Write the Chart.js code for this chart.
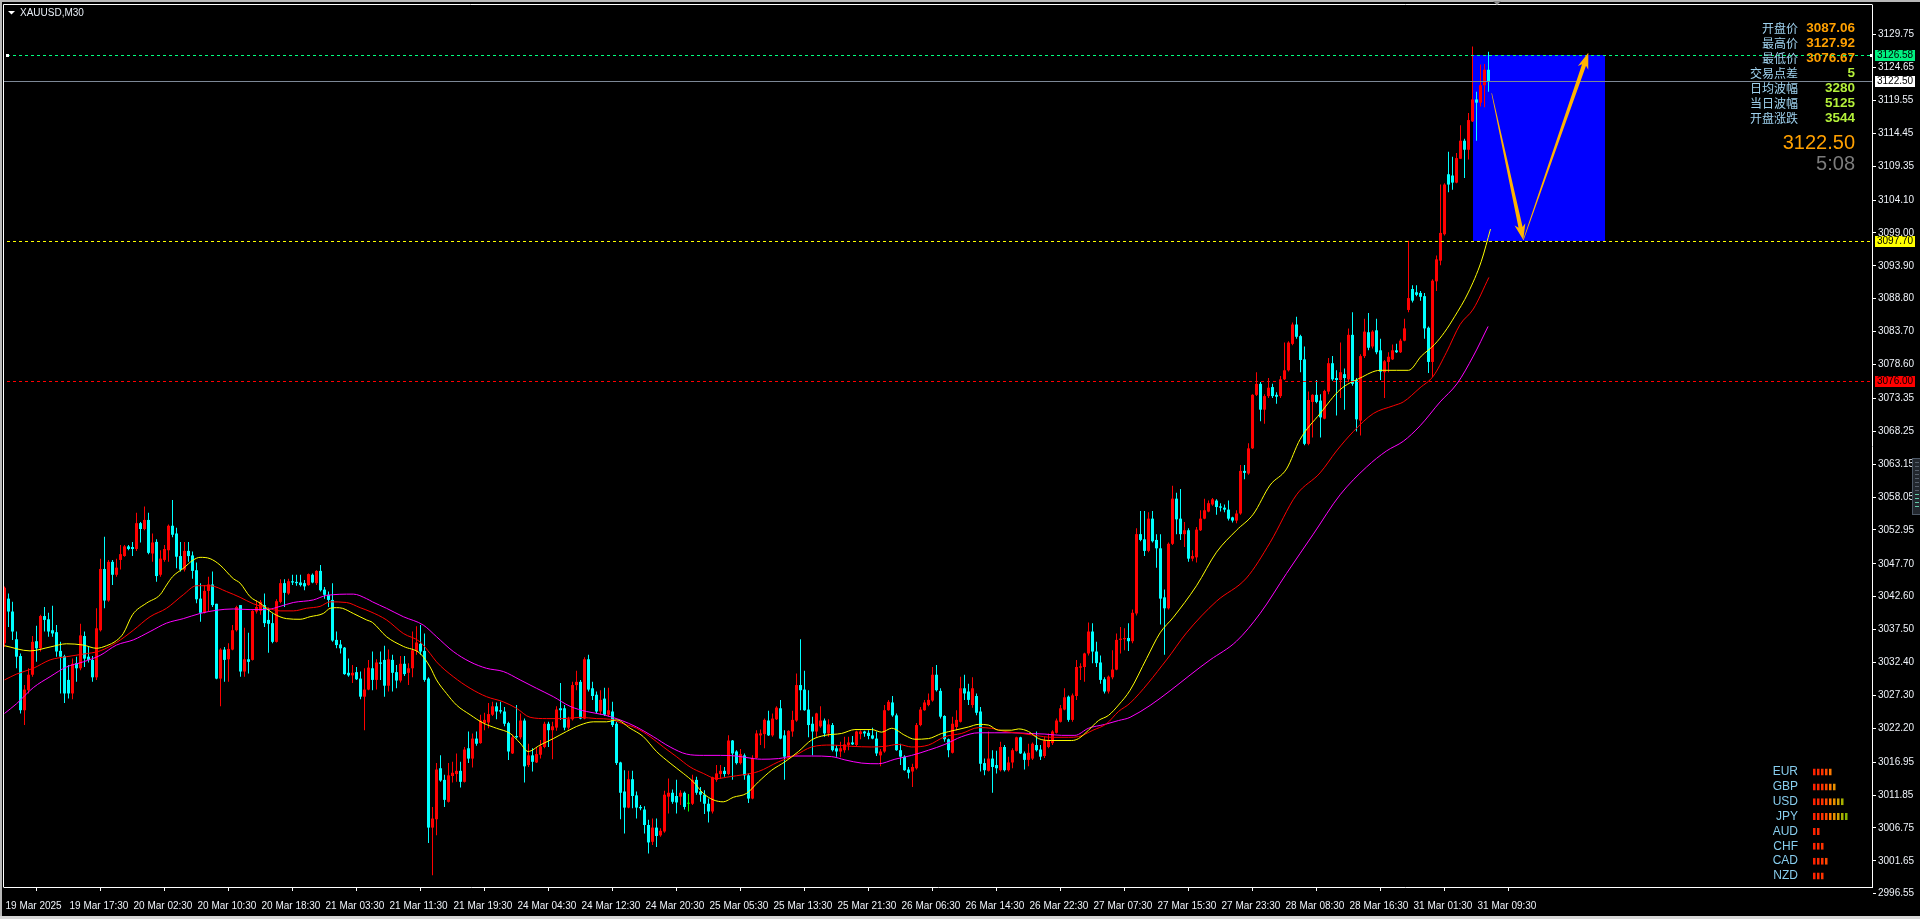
<!DOCTYPE html>
<html>
<head>
<meta charset="utf-8">
<title>XAUUSD,M30</title>
<script src="https://cdn.jsdelivr.net/npm/chart.js@4.4.1/dist/chart.umd.min.js"></script>
<style>
  html, body { margin: 0; padding: 0; background: #000; overflow: hidden; }
  #wrap { position: relative; width: 1920px; height: 919px; }
  #main { position: absolute; left: 0; top: 0; }
  #strengthBox { position: absolute; left: 1740px; top: 764px; width: 130px; height: 120px; }
</style>
</head>
<body>
<div id="wrap">
  <canvas id="main" width="1920" height="919"></canvas>
  <div id="strengthBox"><canvas id="strength"></canvas></div>
</div>
<script>
// ---- XAUUSD M30 bars (index 0 = 19 Mar 2025 09:30) ----
const opens = [
  3035.4,3042.3,3040.3,3036.0,3033.4,3025.0,3028.1,3030.5,3035.7,3034.6,
  3039.6,3039.1,3037.4,3037.1,3034.2,3033.4,3029.7,3027.6,3032.3,3031.5,
  3036.5,3033.3,3032.8,3030.1,3037.4,3046.9,3042.0,3048.0,3046.0,3048.3,
  3048.9,3050.4,3050.3,3050.0,3054.0,3053.1,3054.5,3049.3,3051.1,3046.0,
  3048.3,3049.8,3053.6,3052.4,3048.9,3046.8,3049.7,3049.0,3046.7,3042.3,
  3040.1,3043.5,3044.5,3041.5,3029.9,3034.4,3032.9,3034.4,3037.4,3041.3,
  3031.0,3032.9,3032.8,3040.3,3040.4,3041.3,3039.0,3038.5,3035.6,3041.8,
  3044.7,3043.1,3045.0,3044.9,3044.8,3044.7,3044.4,3046.0,3044.7,3046.6,
  3043.7,3042.9,3042.1,3035.9,3035.2,3034.7,3030.8,3030.4,3030.9,3029.9,
  3027.1,3028.2,3031.5,3029.7,3032.4,3032.8,3028.8,3032.8,3030.9,3029.6,
  3032.2,3030.8,3031.5,3034.2,3035.3,3034.2,3029.9,3006.8,3008.1,3016.0,
  3014.2,3010.8,3014.8,3015.1,3015.6,3013.9,3019.1,3017.5,3020.6,3019.9,
  3023.0,3023.1,3024.3,3025.6,3025.0,3024.8,3023.0,3018.3,3021.0,3020.8,
  3023.4,3016.5,3018.0,3016.9,3018.1,3019.3,3022.9,3021.9,3022.3,3025.3,
  3025.3,3022.3,3023.6,3028.9,3029.4,3023.7,3032.9,3028.4,3027.4,3024.8,
  3026.8,3024.3,3024.8,3022.9,3016.9,3012.4,3009.9,3014.3,3011.8,3010.0,
  3009.6,3007.2,3004.6,3006.8,3005.6,3006.2,3011.6,3012.2,3011.7,3011.6,
  3012.2,3010.5,3010.5,3014.2,3012.4,3011.9,3010.5,3009.3,3014.2,3015.1,
  3015.6,3015.1,3020.3,3018.6,3016.8,3018.0,3014.9,3011.3,3017.6,3021.1,
  3021.3,3023.4,3021.1,3023.6,3025.3,3021.1,3017.7,3021.7,3023.4,3028.9,
  3028.2,3025.1,3022.9,3021.7,3022.5,3023.4,3021.4,3022.7,3019.1,3018.6,
  3018.8,3019.6,3020.0,3019.6,3021.3,3021.7,3021.5,3021.1,3020.6,3018.0,
  3018.6,3025.0,3026.2,3024.2,3018.8,3017.8,3015.8,3015.5,3016.0,3022.7,
  3025.0,3025.8,3026.5,3030.5,3028.0,3024.1,3020.5,3018.4,3022.4,3023.2,
  3028.4,3027.9,3025.8,3027.2,3024.8,3016.8,3015.6,3017.5,3016.5,3015.7,
  3019.3,3015.7,3016.9,3018.7,3020.8,3018.3,3017.3,3017.5,3019.6,3018.9,
  3017.9,3019.3,3019.9,3021.5,3023.2,3025.1,3027.1,3023.5,3027.2,3031.6,
  3031.7,3033.8,3037.2,3034.1,3032.4,3029.8,3027.9,3030.1,3031.3,3035.9,
  3036.0,3036.2,3035.7,3040.0,3052.3,3051.5,3049.7,3054.7,3051.4,3050.1,
  3042.5,3040.8,3050.8,3057.8,3054.7,3052.3,3052.9,3048.5,3048.7,3052.9,
  3054.7,3055.8,3056.9,3057.5,3056.6,3056.4,3056.1,3054.9,3054.4,3055.5,
  3062.1,3061.7,3065.6,3073.9,3075.6,3071.6,3073.7,3075.1,3073.9,3073.7,
  3076.3,3077.7,3081.8,3084.8,3083.0,3079.4,3066.3,3072.8,3073.9,3073.0,
  3070.2,3074.4,3078.8,3076.5,3076.2,3077.1,3076.3,3083.2,3076.2,3069.9,
  3079.9,3083.6,3081.4,3083.9,3080.8,3077.4,3079.0,3079.4,3080.8,3080.5,
  3082.3,3087.06,3090.3,3089.8,3089.7,3089.2,3084.3,3079.0,3091.5,3094.7,
  3098.8,3108.1,3107.9,3106.8,3110.5,3113.3,3111.9,3116.3,3119.7,3119.2,
  3121.9,3124.3
];
const highs = [
  3044.2,3043.1,3041.8,3037.2,3033.8,3028.9,3031.5,3036.5,3038.1,3039.8,
  3041.0,3040.1,3041.2,3038.2,3035.6,3033.6,3032.0,3033.0,3033.3,3038.4,
  3037.2,3034.8,3033.4,3040.8,3048.5,3051.9,3048.3,3048.3,3048.5,3050.6,
  3050.6,3050.6,3051.1,3055.6,3054.2,3056.6,3055.6,3052.4,3051.5,3049.8,
  3050.6,3053.8,3057.6,3053.3,3051.1,3051.1,3051.1,3049.6,3047.9,3044.7,
  3044.4,3045.7,3046.5,3041.5,3034.6,3034.8,3035.4,3038.2,3041.2,3041.3,
  3037.8,3037.0,3040.5,3042.0,3042.1,3043.1,3040.9,3040.0,3042.2,3045.3,
  3045.3,3045.4,3046.0,3046.0,3046.0,3045.2,3046.2,3046.2,3046.7,3047.5,
  3044.1,3043.4,3044.7,3037.2,3035.9,3034.8,3033.0,3032.0,3031.7,3031.0,
  3031.5,3032.8,3034.1,3032.9,3034.1,3035.0,3034.4,3033.6,3032.0,3033.4,
  3033.4,3032.3,3037.2,3038.0,3038.2,3036.9,3030.1,3010.0,3016.8,3018.0,
  3015.0,3016.8,3017.0,3018.3,3017.0,3019.3,3021.7,3021.4,3021.7,3024.3,
  3024.6,3026.1,3026.3,3026.2,3026.3,3025.5,3023.2,3021.2,3025.8,3024.5,
  3023.7,3019.8,3019.1,3019.3,3020.4,3023.2,3023.2,3023.2,3025.6,3029.2,
  3025.8,3024.0,3029.4,3031.1,3029.7,3033.2,3033.6,3029.4,3027.9,3028.1,
  3028.5,3028.5,3026.3,3023.2,3017.0,3015.7,3015.6,3015.6,3012.4,3010.3,
  3010.1,3008.0,3008.2,3008.2,3006.7,3012.5,3014.4,3012.7,3014.2,3012.6,
  3012.4,3012.0,3015.0,3014.7,3013.1,3012.6,3011.3,3014.7,3016.5,3016.5,
  3016.2,3021.1,3020.4,3018.8,3019.0,3018.3,3015.2,3018.0,3021.9,3022.0,
  3023.7,3024.9,3024.5,3025.6,3026.6,3021.9,3021.9,3024.9,3030.7,3036.0,
  3031.1,3028.1,3024.0,3024.6,3025.6,3023.7,3023.6,3023.0,3019.6,3020.1,
  3020.9,3020.9,3021.0,3021.8,3021.9,3021.8,3021.9,3022.3,3021.7,3019.0,
  3025.8,3026.6,3027.2,3024.5,3019.8,3018.0,3016.2,3016.7,3023.0,3025.5,
  3026.6,3027.6,3031.7,3032.0,3028.4,3024.2,3020.6,3024.0,3025.0,3030.2,
  3030.5,3029.1,3030.1,3027.6,3025.5,3017.5,3021.7,3018.8,3018.7,3020.1,
  3019.6,3017.8,3019.1,3020.9,3020.9,3018.6,3019.8,3020.0,3021.7,3019.6,
  3020.9,3021.4,3021.9,3023.7,3025.8,3028.4,3027.3,3027.6,3032.8,3032.3,
  3033.9,3038.6,3038.5,3035.6,3033.5,3030.1,3030.4,3034.3,3036.9,3037.9,
  3037.7,3038.5,3040.6,3053.2,3055.9,3055.9,3055.7,3055.9,3052.3,3052.3,
  3043.7,3051.0,3059.8,3058.7,3059.3,3054.2,3053.2,3049.8,3053.4,3056.0,
  3057.8,3057.5,3057.9,3057.7,3057.1,3056.9,3057.5,3055.0,3056.0,3063.0,
  3063.0,3066.4,3074.0,3077.4,3075.9,3074.0,3076.5,3075.6,3074.3,3076.8,
  3082.0,3082.2,3085.1,3086.0,3083.2,3081.4,3074.4,3074.0,3076.2,3074.0,
  3074.7,3079.6,3079.9,3077.7,3082.0,3078.0,3084.2,3086.7,3076.5,3080.2,
  3085.7,3086.6,3083.9,3085.7,3082.6,3079.3,3080.5,3081.7,3081.8,3082.6,
  3085.7,3097.8,3090.9,3090.9,3090.0,3089.7,3084.5,3091.8,3095.5,3106.5,
  3106.7,3111.6,3110.8,3111.4,3115.7,3113.6,3117.6,3127.92,3120.9,3125.1,
  3125.2,3127.1
];
const lows = [
  3034.8,3037.9,3035.9,3031.5,3024.5,3022.7,3027.6,3030.2,3032.5,3034.1,
  3037.2,3036.4,3036.4,3033.3,3027.6,3026.1,3026.8,3026.7,3029.4,3031.2,
  3031.7,3032.4,3029.4,3029.7,3037.2,3040.8,3041.8,3044.4,3045.7,3046.8,
  3048.8,3049.8,3048.9,3049.7,3051.0,3052.9,3049.2,3048.0,3044.9,3045.7,
  3048.0,3048.0,3051.8,3047.0,3046.5,3046.5,3048.0,3045.4,3041.6,3038.7,
  3040.0,3040.3,3041.0,3029.8,3025.6,3029.4,3029.4,3034.3,3037.2,3030.2,
  3030.2,3030.7,3032.7,3040.0,3039.8,3037.9,3033.9,3035.4,3035.5,3041.6,
  3041.0,3042.9,3044.4,3044.3,3044.2,3043.6,3044.3,3044.7,3044.4,3043.4,
  3042.3,3041.0,3035.6,3034.6,3033.8,3030.5,3030.2,3029.2,3029.7,3026.7,
  3021.9,3028.1,3028.1,3028.2,3029.7,3027.1,3027.9,3027.9,3028.4,3029.3,
  3030.3,3028.9,3030.1,3033.6,3033.6,3029.4,3004.4,2999.4,3005.6,3013.9,
  3010.0,3010.7,3013.8,3013.9,3013.0,3013.8,3016.8,3016.1,3019.5,3019.8,
  3021.9,3022.2,3024.1,3023.6,3024.5,3022.5,3017.3,3018.2,3020.6,3020.5,
  3013.8,3016.2,3015.5,3016.8,3017.5,3019.1,3019.3,3017.4,3021.8,3023.5,
  3021.9,3022.0,3023.4,3028.1,3023.6,3023.6,3027.9,3026.6,3024.5,3024.3,
  3024.1,3024.0,3022.4,3016.5,3008.1,3005.9,3009.8,3009.8,3008.2,3009.5,
  3005.9,3002.8,3004.1,3003.8,3005.4,3006.0,3009.0,3010.5,3009.0,3010.3,
  3009.6,3009.3,3010.3,3011.9,3010.8,3008.9,3007.6,3009.0,3013.9,3014.4,
  3014.7,3014.9,3014.2,3016.6,3016.6,3014.2,3010.6,3011.2,3017.5,3019.6,
  3019.1,3021.0,3020.9,3023.5,3020.5,3014.2,3017.5,3020.9,3023.2,3025.0,
  3024.9,3020.8,3018.0,3020.9,3022.3,3020.9,3020.9,3018.6,3017.8,3017.7,
  3018.4,3018.8,3019.6,3019.4,3020.5,3020.9,3020.5,3020.5,3017.9,3016.3,
  3018.4,3024.9,3024.0,3018.7,3016.5,3015.6,3014.4,3013.1,3015.8,3022.5,
  3024.9,3025.6,3026.3,3027.9,3023.7,3020.1,3017.7,3018.3,3021.9,3023.1,
  3026.6,3025.8,3025.4,3024.2,3015.5,3014.9,3015.5,3012.2,3015.2,3015.5,
  3015.5,3015.5,3016.0,3018.6,3018.2,3015.8,3016.3,3017.3,3018.6,3017.3,
  3017.6,3019.1,3019.6,3021.4,3023.1,3025.0,3023.2,3023.2,3026.6,3029.7,
  3029.4,3033.5,3032.3,3031.7,3029.1,3027.6,3027.6,3029.8,3031.2,3033.8,
  3034.3,3034.2,3035.4,3039.7,3051.2,3048.9,3049.5,3051.0,3047.1,3038.3,
  3033.6,3040.6,3050.6,3052.3,3051.4,3050.3,3048.0,3048.1,3047.9,3052.8,
  3054.6,3055.7,3056.7,3055.3,3055.8,3055.7,3054.4,3054.1,3054.0,3055.3,
  3060.8,3061.5,3065.5,3073.7,3069.8,3069.4,3073.4,3073.4,3072.5,3073.4,
  3076.2,3077.5,3081.6,3082.6,3077.4,3066.1,3066.1,3067.3,3072.6,3067.3,
  3070.1,3074.0,3076.1,3070.7,3073.4,3071.6,3075.9,3075.3,3068.2,3067.6,
  3079.6,3080.8,3081.1,3080.2,3076.2,3073.4,3077.4,3079.3,3080.4,3080.4,
  3082.2,3086.7,3088.2,3089.2,3088.5,3082.6,3077.3,3076.67,3090.0,3094.0,
  3098.6,3105.3,3105.7,3106.7,3110.5,3107.5,3110.4,3116.2,3113.3,3118.6,
  3118.5,3120.9
];
const closes = [
  3044.0,3040.3,3037.2,3033.3,3025.0,3028.2,3030.5,3035.6,3034.6,3039.6,
  3039.0,3037.2,3036.9,3034.1,3033.3,3027.6,3027.6,3032.2,3031.5,3036.6,
  3033.0,3032.8,3030.1,3037.7,3046.9,3042.0,3048.0,3046.0,3047.1,3049.2,
  3050.4,3050.0,3050.0,3054.0,3053.1,3054.5,3049.4,3051.0,3045.8,3048.5,
  3050.0,3053.6,3052.2,3048.8,3046.8,3049.7,3048.9,3046.6,3042.2,3040.1,
  3043.5,3044.5,3041.3,3029.9,3034.4,3032.8,3034.5,3037.4,3041.0,3031.0,
  3032.9,3032.5,3040.4,3041.0,3041.8,3038.5,3038.4,3035.6,3041.9,3044.7,
  3043.2,3045.0,3044.8,3044.7,3044.4,3044.2,3046.1,3044.8,3046.6,3043.6,
  3042.9,3042.1,3035.8,3035.1,3034.6,3030.6,3030.4,3030.8,3029.8,3027.1,
  3028.2,3031.6,3029.7,3032.4,3032.2,3028.8,3032.9,3030.8,3029.6,3032.2,
  3030.6,3031.5,3034.3,3035.5,3034.1,3029.7,3006.8,3008.2,3015.8,3014.1,
  3011.1,3014.9,3015.3,3015.6,3013.9,3018.9,3017.5,3020.6,3019.8,3023.4,
  3023.5,3024.4,3025.6,3024.8,3024.8,3022.9,3018.6,3020.8,3020.8,3023.4,
  3016.3,3018.0,3017.0,3018.2,3019.4,3022.9,3021.9,3022.5,3025.1,3025.0,
  3022.3,3023.6,3028.9,3029.4,3023.7,3032.9,3028.2,3027.2,3024.8,3026.6,
  3024.3,3025.0,3022.7,3016.8,3012.2,3009.9,3014.3,3011.7,3009.9,3009.8,
  3007.2,3004.5,3006.8,3005.5,3006.3,3011.9,3012.2,3010.8,3010.7,3012.2,
  3010.0,3010.5,3014.2,3012.2,3011.9,3010.5,3009.3,3014.6,3015.2,3015.6,
  3015.1,3020.3,3018.3,3016.8,3018.2,3014.9,3011.3,3017.6,3021.4,3021.4,
  3023.5,3021.1,3023.7,3025.4,3020.6,3017.8,3021.8,3023.5,3028.9,3028.1,
  3025.0,3022.7,3021.7,3024.5,3023.4,3021.4,3022.8,3018.8,3018.6,3019.1,
  3019.7,3020.0,3019.7,3021.7,3021.7,3021.4,3021.0,3020.6,3018.3,3018.6,
  3025.0,3026.3,3024.2,3018.8,3017.8,3015.7,3015.3,3016.2,3022.7,3025.1,
  3026.2,3026.6,3030.5,3028.1,3024.0,3020.5,3018.8,3022.9,3023.5,3028.4,
  3027.6,3026.6,3028.4,3024.6,3016.7,3015.7,3017.5,3016.2,3016.0,3019.3,
  3015.7,3016.9,3018.8,3020.8,3018.3,3017.3,3018.4,3019.8,3018.8,3017.8,
  3020.3,3020.4,3021.7,3023.4,3025.3,3027.0,3023.5,3027.3,3031.7,3031.8,
  3033.8,3037.2,3034.1,3032.3,3029.7,3027.9,3030.2,3031.3,3035.9,3036.1,
  3036.2,3035.7,3040.1,3052.3,3051.4,3049.7,3054.7,3051.2,3050.1,3042.3,
  3040.8,3050.8,3057.8,3054.6,3052.3,3052.9,3048.5,3048.9,3053.0,3054.7,
  3056.0,3057.1,3057.7,3056.5,3056.4,3056.1,3054.7,3054.4,3055.5,3062.1,
  3061.8,3065.6,3073.9,3075.6,3071.6,3073.7,3075.0,3073.7,3073.6,3076.3,
  3077.7,3082.0,3084.8,3082.9,3079.3,3066.3,3073.1,3073.9,3072.8,3070.4,
  3074.5,3078.8,3076.3,3076.2,3077.4,3076.5,3083.2,3075.6,3070.1,3079.9,
  3083.7,3081.2,3083.7,3080.5,3077.5,3079.1,3079.8,3080.8,3080.5,3082.3,
  3084.2,3088.9,3088.5,3089.4,3089.1,3084.2,3079.0,3091.6,3094.9,3099.0,
  3106.5,3106.5,3106.8,3110.6,3113.3,3111.9,3116.5,3119.7,3119.2,3121.9,
  3124.3,3122.50
];

// Moving averages, sampled as [bar index, price]
const maFast = [
  [0,3035.0],[6.4,3034.2],[11.4,3034.8],[15.5,3035.3],[19.7,3035.1],[23,3034.6],[25.5,3035.0],
  [28,3035.8],[29.7,3036.9],[32,3039.8],[35.5,3041.6],[38.9,3042.9],[40.5,3044.4],[42,3045.7],
  [44.7,3047.0],[47.2,3048.3],[48.9,3048.7],[51.4,3048.5],[53.9,3047.5],[57.2,3045.4],[58.9,3044.7],
  [61.4,3042.6],[63.9,3041.6],[67.2,3040.0],[70.5,3039.2],[73.9,3039.1],[76.4,3039.5],[79.7,3040.0],
  [81.4,3040.8],[83,3040.9],[84.5,3040.8],[87.2,3040.0],[90.5,3039.0],[92,3038.6],[95.5,3036.4],
  [99.7,3034.9],[103.9,3033.8],[106.4,3031.7],[108,3029.7],[110.5,3027.6],[113,3025.8],[116.4,3024.3],
  [119.7,3023.0],[123,3022.2],[126.4,3021.4],[128.9,3019.9],[130.9,3018.6],[133.9,3019.6],[137.2,3020.6],
  [140.5,3021.7],[143.9,3022.7],[147.2,3023.2],[150.5,3023.2],[153,3023.5],[156.4,3022.2],[159.7,3020.9],
  [163,3018.6],[166.4,3016.8],[169.7,3015.2],[172.2,3013.9],[174.7,3012.1],[177.2,3011.1],[179.7,3010.8],
  [182.2,3011.5],[185.5,3012.1],[188.5,3013.9],[191.8,3015.7],[195.1,3017.0],[198.5,3018.6],[201.8,3020.4],
  [205.1,3021.1],[209.3,3021.4],[212.6,3022.0],[216.8,3022.0],[219.3,3021.6],[221.8,3022.2],[225.1,3021.1],
  [227.6,3020.5],[231,3020.6],[234.3,3021.4],[237.6,3021.9],[241,3022.4],[243.5,3022.8],[246,3022.7],
  [248.5,3021.9],[251.8,3021.9],[253.5,3022.1],[256,3021.7],[258.5,3020.6],[261.8,3020.3],[266.8,3020.3],
  [268.5,3020.6],[271,3021.9],[273.5,3023.4],[276,3024.2],[278.5,3025.8],[281.4,3028.1],[285.5,3033.0],
  [288.9,3037.0],[292.2,3039.4],[298,3044.3],[303,3049.5],[308,3052.9],[312.2,3055.4],[316.4,3059.9],
  [320.5,3062.4],[323.9,3067.0],[328.9,3071.0],[333.9,3074.7],[338.9,3076.5],[343.9,3077.7],[348,3077.7],
  [351,3077.7],[354.2,3079.9],[357.5,3081.7],[360,3083.6],[362.5,3086.0],[365.9,3089.7],[369.2,3094.6],
  [371.5,3099.6]
];
const maMid = [
  [0,3029.7],[3,3030.6],[7.2,3031.5],[11.4,3032.8],[15.5,3033.3],[19.7,3033.7],[23.9,3034.2],[28,3035.5],
  [32.2,3037.4],[36.4,3039.5],[40.5,3040.8],[44.7,3042.9],[48,3044.3],[51.4,3044.3],[55.5,3043.4],
  [58.9,3042.5],[62.2,3041.5],[65.5,3040.9],[68.9,3040.4],[72.2,3040.4],[75.5,3040.8],[78.9,3041.1],
  [81.4,3041.8],[85.5,3041.7],[88.9,3040.9],[91.4,3040.3],[95.5,3039.0],[99.7,3036.9],[103.9,3035.6],
  [106.4,3033.8],[108,3032.5],[112.2,3030.2],[116.4,3028.4],[120.5,3027.1],[124.7,3026.3],[128,3025.3],
  [131.4,3023.9],[135.5,3023.7],[139.7,3023.7],[143.9,3023.9],[148,3023.7],[151.4,3023.6],[154.7,3022.9],
  [158,3022.2],[161.4,3020.9],[164.7,3019.3],[168,3017.8],[171.4,3016.2],[174.7,3015.2],[178,3014.4],
  [181.4,3014.7],[184.7,3015.0],[188.5,3015.5],[193.5,3017.0],[197.6,3018.0],[201.8,3019.3],[206.8,3019.6],
  [211.8,3019.4],[216.8,3019.3],[220.1,3019.4],[223.5,3019.7],[226.8,3019.3],[231,3019.6],[235.1,3020.9],
  [239.3,3021.4],[243.5,3022.3],[246.8,3022.2],[250.1,3021.7],[254.3,3021.4],[257.6,3021.1],[261.8,3020.8],
  [266,3020.8],[268.5,3020.9],[272.1,3021.9],[275.5,3022.9],[278.5,3024.8],[281.4,3026.1],[290.5,3032.8],
  [295.5,3037.0],[303,3041.9],[310.5,3045.5],[316.4,3051.0],[323,3058.4],[328.9,3061.8],[333,3065.2],
  [337.2,3068.2],[342.2,3071.0],[347.2,3072.2],[349.7,3072.8],[353.9,3075.0],[357.2,3076.8],[360.5,3080.5],
  [363.9,3084.8],[367.2,3087.2],[371.1,3092.1]
];
const maSlow = [
  [0,3024.5],[3,3026.0],[7.2,3028.5],[11.4,3030.2],[15.5,3031.7],[19.7,3032.5],[23.9,3033.5],[28,3035.1],
  [32.2,3035.9],[36.4,3037.2],[40.5,3038.5],[44.7,3039.2],[48.9,3040.0],[53,3040.5],[57.2,3040.7],
  [61.4,3040.6],[65.5,3040.6],[68.9,3041.1],[72.2,3041.7],[77.2,3042.1],[80.5,3042.8],[87.2,3043.0],
  [90.5,3042.3],[92,3041.8],[95.5,3040.8],[99.7,3039.5],[104.7,3038.2],[108,3036.4],[112.2,3034.1],
  [116.4,3032.5],[120.5,3031.5],[124.7,3031.0],[128.9,3029.7],[133,3028.4],[137.2,3027.1],[141.4,3025.6],
  [145.5,3024.8],[149.7,3024.3],[153.9,3023.5],[158,3022.4],[162.2,3020.9],[166.4,3019.3],[170.5,3018.2],
  [174.7,3018.0],[179,3018.0],[183,3017.9],[187.2,3017.5],[189.3,3017.4],[193.5,3017.5],[197.6,3017.9],
  [201.8,3017.9],[206.8,3017.8],[210.1,3017.3],[214.3,3016.8],[218.5,3016.7],[222.6,3017.4],[226.8,3018.0],
  [231,3018.8],[235.1,3019.7],[239.3,3020.9],[243.5,3021.5],[247.6,3021.5],[251.8,3021.5],[256,3021.4],
  [260.1,3021.3],[264.3,3021.1],[267.6,3021.1],[271,3022.2],[275.1,3022.8],[278.5,3023.4],[281.4,3023.9],
  [301.4,3032.8],[308,3035.7],[313.9,3040.0],[320.5,3046.2],[327.2,3052.3],[333.9,3058.4],[340.5,3062.7],
  [345.5,3065.2],[349.7,3066.7],[353.9,3069.1],[358.9,3072.8],[363.1,3075.6],[367.2,3079.9],[370.9,3084.5]
];

// Time axis: one label every 16 bars
const labelStep = 16;
const timeLabels = [
  '19 Mar 2025','19 Mar 17:30','20 Mar 02:30','20 Mar 10:30','20 Mar 18:30','21 Mar 03:30',
  '21 Mar 11:30','21 Mar 19:30','24 Mar 04:30','24 Mar 12:30','24 Mar 20:30','25 Mar 05:30',
  '25 Mar 13:30','25 Mar 21:30','26 Mar 06:30','26 Mar 14:30','26 Mar 22:30','27 Mar 07:30',
  '27 Mar 15:30','27 Mar 23:30','28 Mar 08:30','28 Mar 16:30','31 Mar 01:30','31 Mar 09:30'
];
// Price axis ticks
const priceTicks = [
  3129.75,3124.65,3119.55,3114.45,3109.35,3104.10,3099.00,3093.90,3088.80,3083.70,3078.60,
  3073.35,3068.25,3063.15,3058.05,3052.95,3047.70,3042.60,3037.50,3032.40,3027.30,3022.20,
  3016.95,3011.85,3006.75,3001.65,2996.55
];

// Drawn objects
const bidPrice = 3122.50;
const dashedLevels = [3126.58, 3097.70, 3076.00];
const zoneBars = [367, 400];
const zonePrices = [3097.70, 3126.58];
const arrowPath = [[371.8, 3120.65], [379.7, 3097.90], [395.95, 3126.94]];

// Info panel
const infoLabels = ['开盘价', '最高价', '最低价', '交易点差', '日均波幅', '当日波幅', '开盘涨跌'];
const infoValues = ['3087.06', '3127.92', '3076.67', '5', '3280', '5125', '3544'];
const lastPriceText = '3122.50';
const countdownText = '5:08';

// Currency strength
const currencies = ['EUR', 'GBP', 'USD', 'JPY', 'AUD', 'CHF', 'CAD', 'NZD'];
const strength = [5, 6, 8, 9, 2, 3, 4, 3];

// ---- styles ----
const FONT = "'Liberation Sans', Arial, sans-serif";
const AXIS_SIZE = 10;
const BULL = '#ff0000', BEAR = '#00ffff', DOJI = '#00ff00';
const LEVEL_COLORS = ['#00ff7f', '#ffff00', '#ff0000'];
const SEG_COLORS = ['#ff2200', '#ff2a00', '#ff3300', '#ff4a00', '#ff7a00', '#e89000', '#d0a000', '#a8b000', '#88b400'];

const candleColor = opens.map((o, i) => closes[i] > o ? BULL : (closes[i] < o ? BEAR : DOJI));
const wickData = highs.map((h, i) => ({ x: i, y: [lows[i], h] }));
const bodyData = opens.map((o, i) => ({ x: i, y: [Math.min(o, closes[i]), Math.max(o, closes[i])] }));
const pts = arr => arr.map(([x, y]) => ({ x, y }));

function drawArrow(ctx, x0, y0, x1, y1) {
  const dx = x1 - x0, dy = y1 - y0, len = Math.hypot(dx, dy);
  const ux = dx / len, uy = dy / len, nx = -uy, ny = ux;
  const headLen = 13, headW = 5.5, w0 = 0.6, w1 = 4.2;
  const bx = x1 - ux * headLen, by = y1 - uy * headLen;
  const rx = x1 - ux * (headLen + 3), ry = y1 - uy * (headLen + 3);
  ctx.beginPath();
  ctx.moveTo(x0 + nx * w0 / 2, y0 + ny * w0 / 2);
  ctx.lineTo(bx + nx * w1 / 2, by + ny * w1 / 2);
  ctx.lineTo(rx + nx * headW, ry + ny * headW);
  ctx.lineTo(x1, y1);
  ctx.lineTo(rx - nx * headW, ry - ny * headW);
  ctx.lineTo(bx - nx * w1 / 2, by - ny * w1 / 2);
  ctx.lineTo(x0 - nx * w0 / 2, y0 - ny * w0 / 2);
  ctx.closePath();
  ctx.fill();
}

function priceTag(ctx, yPix, text, bg) {
  const yc = Math.round(yPix);
  ctx.fillStyle = bg;
  ctx.fillRect(1875, yc - 5, 40, 11);
  ctx.fillStyle = '#000';
  ctx.font = AXIS_SIZE + 'px ' + FONT;
  ctx.textAlign = 'left';
  ctx.textBaseline = 'middle';
  ctx.fillText(text, 1877, yc + 0.5);
}

const terminalDecor = {
  id: 'terminalDecor',
  beforeDraw(chart) {
    const ctx = chart.ctx;
    ctx.save();
    ctx.fillStyle = '#000';
    ctx.fillRect(0, 0, chart.width, chart.height);
    ctx.restore();
  },
  beforeDatasetsDraw(chart) {
    const { ctx, chartArea: a, scales: { x, y } } = chart;
    ctx.save();
    ctx.beginPath();
    ctx.rect(a.left, a.top, a.right - a.left, a.bottom - a.top);
    ctx.clip();
    const x0 = Math.round(x.getPixelForValue(zoneBars[0]));
    const x1 = Math.round(x.getPixelForValue(zoneBars[1]));
    const y0 = Math.round(y.getPixelForValue(zonePrices[1]));
    const y1 = Math.round(y.getPixelForValue(zonePrices[0]));
    ctx.fillStyle = '#0000ff';
    ctx.fillRect(x0, y0, x1 - x0, y1 - y0);
    ctx.restore();
  },
  afterDatasetsDraw(chart) {
    const { ctx, chartArea: a, scales: { x, y } } = chart;
    ctx.save();
    ctx.beginPath();
    ctx.rect(a.left, a.top, a.right - a.left, a.bottom - a.top);
    ctx.clip();
    // bid line
    const yb = Math.round(y.getPixelForValue(bidPrice)) + 0.5;
    ctx.strokeStyle = '#7d8896';
    ctx.lineWidth = 1;
    ctx.beginPath(); ctx.moveTo(a.left, yb); ctx.lineTo(a.right, yb); ctx.stroke();
    // dashed levels
    ctx.setLineDash([3, 3]);
    dashedLevels.forEach((p, k) => {
      const yy = Math.round(y.getPixelForValue(p)) + 0.5;
      ctx.strokeStyle = LEVEL_COLORS[k];
      ctx.beginPath(); ctx.moveTo(a.left + 3, yy); ctx.lineTo(a.right, yy); ctx.stroke();
    });
    ctx.setLineDash([]);
    // arrows
    ctx.fillStyle = '#ffb300';
    for (let k = 0; k < arrowPath.length - 1; k++) {
      const [i0, p0] = arrowPath[k], [i1, p1] = arrowPath[k + 1];
      drawArrow(ctx, x.getPixelForValue(i0), y.getPixelForValue(p0), x.getPixelForValue(i1), y.getPixelForValue(p1));
    }
    // level anchor marker
    const yg = Math.round(y.getPixelForValue(dashedLevels[0]));
    ctx.fillStyle = '#ffffff';
    ctx.fillRect(6, yg - 1, 3, 3);
    ctx.restore();
  },
  afterDraw(chart) {
    const { ctx, chartArea: a, scales: { y } } = chart;
    ctx.save();
    // window frame
    ctx.fillStyle = '#b8b8b8';
    ctx.fillRect(0, 0, 1920, 2);
    ctx.fillRect(0, 0, 2, 919);
    ctx.fillStyle = '#d6d6d6';
    ctx.fillRect(0, 916, 1920, 3);
    ctx.strokeStyle = '#ffffff';
    ctx.lineWidth = 1;
    ctx.beginPath();
    ctx.moveTo(3.5, a.bottom + 0.5); ctx.lineTo(3.5, 4.5); ctx.lineTo(a.right + 0.5, 4.5);
    ctx.stroke();
    // shift marker
    ctx.fillStyle = '#8c8c8c';
    ctx.beginPath(); ctx.moveTo(1493, 1); ctx.lineTo(1501, 1); ctx.lineTo(1497, 5); ctx.closePath(); ctx.fill();
    // symbol caption
    ctx.fillStyle = '#ffffff';
    ctx.beginPath(); ctx.moveTo(8, 11); ctx.lineTo(15, 11); ctx.lineTo(11.5, 14.5); ctx.closePath(); ctx.fill();
    ctx.font = '10px ' + FONT;
    ctx.textAlign = 'left'; ctx.textBaseline = 'middle';
    ctx.fillStyle = '#e8eef6';
    ctx.fillText('XAUUSD,M30', 20, 13);
    // price tags on the axis
    priceTag(ctx, y.getPixelForValue(dashedLevels[0]), dashedLevels[0].toFixed(2), '#00f080');
    ctx.fillStyle = '#ffffff';
    ctx.fillRect(1870, Math.round(y.getPixelForValue(dashedLevels[0])) - 1, 3, 3);
    priceTag(ctx, y.getPixelForValue(bidPrice), bidPrice.toFixed(2), '#ffffff');
    priceTag(ctx, y.getPixelForValue(dashedLevels[1]), dashedLevels[1].toFixed(2), '#ffff00');
    priceTag(ctx, y.getPixelForValue(dashedLevels[2]), dashedLevels[2].toFixed(2), '#ff0000');
    // info panel
    infoLabels.forEach((t, k) => {
      const yy = 28.5 + k * 15;
      ctx.font = "12px 'Noto Sans CJK SC', sans-serif";
      ctx.textAlign = 'right';
      ctx.fillStyle = '#9fd2ef';
      ctx.fillText(t, 1798, yy);
      ctx.font = "bold 13.5px 'Liberation Sans', Arial, sans-serif";
      ctx.fillStyle = k < 3 ? '#ffa000' : '#b4f03a';
      ctx.fillText(infoValues[k], 1855, yy);
    });
    ctx.font = "20px 'Liberation Sans', Arial, sans-serif";
    ctx.textAlign = 'right';
    ctx.fillStyle = '#ffa000';
    ctx.fillText(lastPriceText, 1855, 143.5);
    ctx.fillStyle = '#7c7c7c';
    ctx.fillText(countdownText, 1855, 164.5);
    // side scroller
    ctx.fillStyle = '#22272e';
    ctx.fillRect(1912, 458, 8, 57);
    ctx.strokeStyle = '#4d5866';
    ctx.strokeRect(1912.5, 458.5, 8, 56);
    for (let k = 0; k < 12; k++) {
      ctx.fillStyle = k < 8 ? '#56606c' : '#62c9a8';
      ctx.fillRect(1915, 462 + k * 4, 4, 1);
    }
    ctx.restore();
  }
};

new Chart(document.getElementById('main'), {
  type: 'bar',
  data: {
    datasets: [
      { type: 'line', data: pts(maFast), borderColor: '#ffff00', borderWidth: 1, pointRadius: 0, cubicInterpolationMode: 'monotone', order: 0 },
      { type: 'line', data: pts(maMid), borderColor: '#ff0000', borderWidth: 1, pointRadius: 0, cubicInterpolationMode: 'monotone', order: 0 },
      { type: 'line', data: pts(maSlow), borderColor: '#ff00ff', borderWidth: 1, pointRadius: 0, cubicInterpolationMode: 'monotone', order: 0 },
      { type: 'bar', data: bodyData, backgroundColor: candleColor, barThickness: 3, grouped: false, minBarLength: 1, inflateAmount: 0, borderWidth: 0, order: 1 },
      { type: 'bar', data: wickData, backgroundColor: candleColor, barThickness: 1, grouped: false, minBarLength: 1, inflateAmount: 0, borderWidth: 0, order: 2 }
    ]
  },
  options: {
    responsive: false,
    maintainAspectRatio: false,
    animation: false,
    devicePixelRatio: 1,
    events: [],
    layout: { padding: { left: 4, top: 5, right: 0, bottom: 0 }, autoPadding: false },
    plugins: { legend: { display: false }, tooltip: { enabled: false } },
    scales: {
      x: {
        type: 'linear', min: -0.125, max: 466.875, offset: false,
        grid: { drawOnChartArea: false, drawTicks: true, tickLength: 4, color: '#ffffff', lineWidth: 1 },
        border: { display: true, color: '#ffffff', width: 1 },
        ticks: {
          autoSkip: false, maxRotation: 0, minRotation: 0, align: 'start', padding: 0, labelOffset: 1,
          color: '#eef2f8', font: { size: AXIS_SIZE, family: FONT, lineHeight: 3.0 },
          callback: v => timeLabels[Math.round(v / labelStep)] ?? ''
        },
        afterBuildTicks: s => { s.ticks = timeLabels.map((_, k) => ({ value: k * labelStep })); },
        afterFit: s => { s.height = 32; }
      },
      y: {
        type: 'linear', position: 'right', min: 2997.59, max: 3134.34,
        grid: { drawOnChartArea: false, drawTicks: true, tickLength: 4, color: '#ffffff', lineWidth: 1 },
        border: { display: true, color: '#ffffff', width: 1 },
        ticks: { autoSkip: false, padding: 2, color: '#eef2f8', font: { size: AXIS_SIZE, family: FONT, lineHeight: 0.1 }, callback: v => Number(v).toFixed(2) },
        afterBuildTicks: s => { s.ticks = priceTicks.map(v => ({ value: v })); },
        afterFit: s => { s.width = 48; }
      }
    }
  },
  plugins: [terminalDecor]
});

// Currency strength meter: one stacked unit per lit segment
new Chart(document.getElementById('strength'), {
  type: 'bar',
  data: {
    labels: currencies,
    datasets: SEG_COLORS.map((c, k) => ({
      data: strength.map(s => (s > k ? 1 : null)),
      backgroundColor: c,
      borderColor: '#000000',
      borderWidth: { left: 0, top: 0, bottom: 0, right: 1.5 },
      borderSkipped: false,
      barThickness: 7,
      inflateAmount: 0
    }))
  },
  options: {
    indexAxis: 'y',
    responsive: true,
    maintainAspectRatio: false,
    animation: false,
    devicePixelRatio: 1,
    events: [],
    layout: { padding: { left: 0, right: 0, top: 0, bottom: 0 }, autoPadding: false },
    plugins: { legend: { display: false }, tooltip: { enabled: false } },
    scales: {
      x: { stacked: true, display: false, min: -3.75, max: 14.25 },
      y: {
        stacked: true,
        offset: true,
        grid: { display: false, drawTicks: false },
        border: { display: false },
        ticks: { autoSkip: false, color: '#87cdee', padding: 0, font: { size: 12, family: "'Liberation Sans', Arial, sans-serif", lineHeight: 0.1 } },
        afterFit: s => { s.width = 58; }
      }
    }
  }
});
</script>
</body>
</html>
